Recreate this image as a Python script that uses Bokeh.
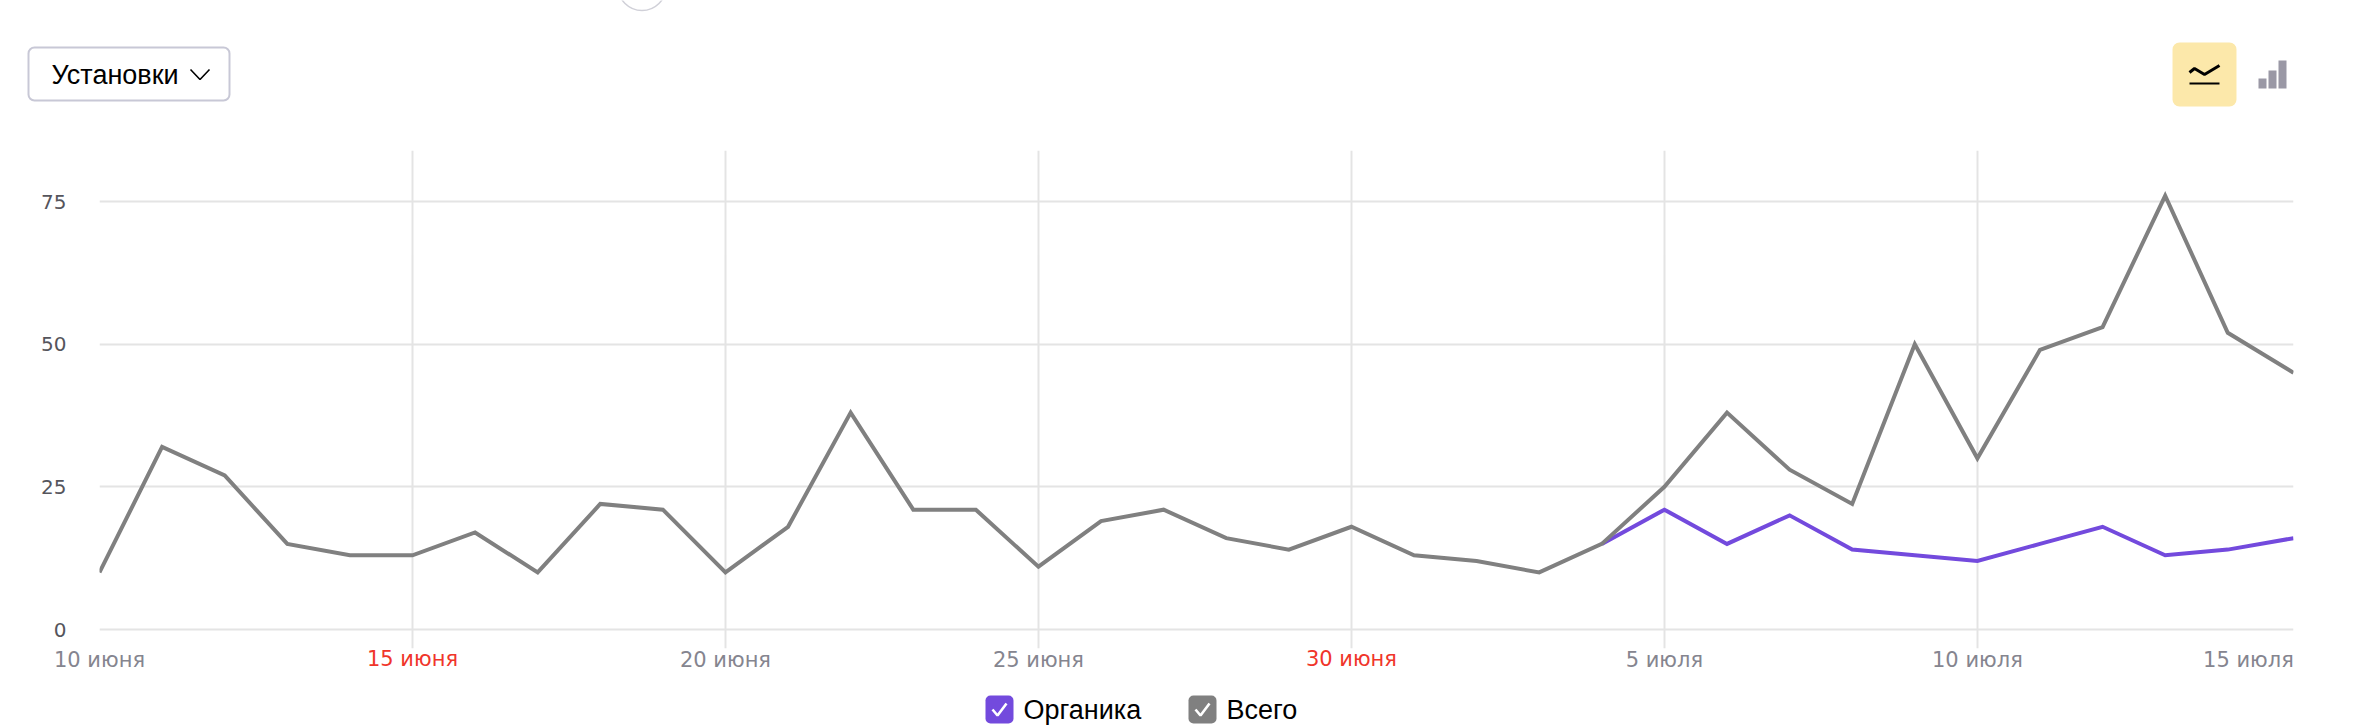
from bokeh.plotting import figure
from bokeh.embed import file_html
from bokeh.resources import INLINE
from bokeh.layouts import column
from bokeh.models import Range1d, FixedTicker, LinearAxis
from bokeh.core.properties import value

days = list(range(35)) + [35.05]
total = [10, 32, 27, 15, 13, 13, 17, 10, 22, 21, 10, 18, 38, 21, 21, 11, 19, 21, 16, 14, 18, 13, 12, 10, 15, 25, 38, 28, 22, 50, 30, 49, 53, 76, 52, 45]
organic_days = days[24:]
organic = [15, 21, 15, 20, 14, 13, 12, 15, 18, 13, 14, 16]
grid_days = [0, 5, 10, 15, 20, 25, 30, 35.05]
grey_tick_days = [0, 10, 15, 25, 30, 34.33]
grey_tick_labels = ["10 июня", "20 июня", "25 июня", "5 июля", "10 июля", "15 июля"]
red_tick_days = [5, 20]
red_tick_labels = ["15 июня", "30 июня"]
y_ticks = [0, 25, 50, 75]
series_names = ["Органика", "Всего"]
dropdown_label = "Установки"

W, H = 2372, 728
FL, FR, FT, FB = 99, 2293, 150, 648   # frame edges in page pixels
LEG_TOP = 690
GRID = "#e4e4e4"
GREY_TXT = "#85858f"
RED = "#f0352a"
PURPLE = "#734add"
GREY = "#808080"
AXFONT = "DejaVu Sans"
UIFONT = "Liberation Sans"


def strip(height, top):
    """A figure whose frame fills it, with ranges in page pixels."""
    f = figure(width=W, height=height, output_backend="svg", toolbar_location=None,
               x_range=Range1d(0, W), y_range=Range1d(top + height, top),
               min_border=0, x_axis_location=None, y_axis_location=None, frame_align=False)
    f.outline_line_color = None
    f.xgrid.visible = False
    f.ygrid.visible = False
    return f


# ---- header
head = strip(FT, 0)
head.circle([641.5], [-14], radius=24, fill_color=None, line_color="#d0d0d8", line_width=1.5)
head.quad(left=[28], right=[229], top=[47], bottom=[100], fill_color="#ffffff",
          line_color="#c8c8d6", line_width=2, border_radius=6)
head.text([51], [74], text=[dropdown_label], text_font=value(UIFONT), text_font_size="27px",
          text_color="#000000", text_baseline="middle")
head.line([190, 199.5, 209], [69, 79, 69], line_color="#000000", line_width=1.6)
head.quad(left=[2172], right=[2236], top=[42], bottom=[106], fill_color="#fce8aa",
          line_color=None, border_radius=7)
head.line([2189, 2194, 2204, 2219], [72, 68, 74, 65], line_color="#000000", line_width=3)
head.line([2189, 2219], [83, 83], line_color="#000000", line_width=2)
head.quad(left=[2258, 2268, 2278], right=[2266, 2276, 2286], top=[78, 70, 60],
          bottom=[88, 88, 88], fill_color="#9a98a5", line_color=None)

# ---- main chart
y0 = 629.0
ppu = (629.0 - 201.0) / 75
p = figure(width=W, height=LEG_TOP - FT, output_backend="svg", toolbar_location=None,
           x_range=Range1d(0, 35.05),
           y_range=Range1d((y0 - FB) / ppu, (y0 - FT) / ppu),
           min_border_left=FL, min_border_right=W - FR,
           min_border_top=0, min_border_bottom=LEG_TOP - FB, frame_align=False)
p.outline_line_color = None

red_axis = LinearAxis()
p.add_layout(red_axis, "below")
axes = [p.xaxis[0], red_axis, p.yaxis[0]]
for ax in axes:
    ax.axis_line_color = None
    ax.major_tick_line_color = None
    ax.minor_tick_line_color = None
    ax.major_label_text_font = AXFONT
    ax.major_label_text_font_size = "20px"
p.xaxis[0].major_label_text_font_size = "21px"
red_axis.major_label_text_font_size = "21px"

p.xaxis[0].ticker = FixedTicker(ticks=grey_tick_days)
p.xaxis[0].major_label_overrides = dict(zip(grey_tick_days, grey_tick_labels))
p.xaxis[0].major_label_text_color = GREY_TXT
p.xaxis[0].major_label_standoff = -7
red_axis.ticker = FixedTicker(ticks=red_tick_days)
red_axis.major_label_overrides = dict(zip(red_tick_days, red_tick_labels))
red_axis.major_label_text_color = RED
red_axis.major_label_standoff = -34
p.yaxis[0].ticker = FixedTicker(ticks=y_ticks)
p.yaxis[0].major_label_text_color = "#55555c"
p.yaxis[0].major_label_standoff = 27

p.xgrid[0].ticker = FixedTicker(ticks=grid_days)
p.ygrid[0].ticker = FixedTicker(ticks=y_ticks)
for g in (p.xgrid[0], p.ygrid[0]):
    g.grid_line_color = GRID
    g.grid_line_width = 2

p.line(organic_days, organic, line_color=PURPLE, line_width=4, line_join="miter")
p.line(days, total, line_color=GREY, line_width=4, line_join="miter")

# ---- legend
leg = strip(H - LEG_TOP, LEG_TOP)
for l, color, name in [(985, PURPLE, series_names[0]), (1188, GREY, series_names[1])]:
    leg.quad(left=[l], right=[l + 28], top=[695], bottom=[723], fill_color=color,
             line_color=None, border_radius=5)
    leg.line([l + 7, l + 12, l + 21], [709, 715, 703], line_color="#ffffff", line_width=2.6)
    leg.text([l + 38], [709], text=[name], text_font=value(UIFONT), text_font_size="27px",
             text_color="#000000", text_baseline="middle")

page = column(head, p, leg, spacing=0)
open("out.html", "w").write(file_html(page, INLINE))
